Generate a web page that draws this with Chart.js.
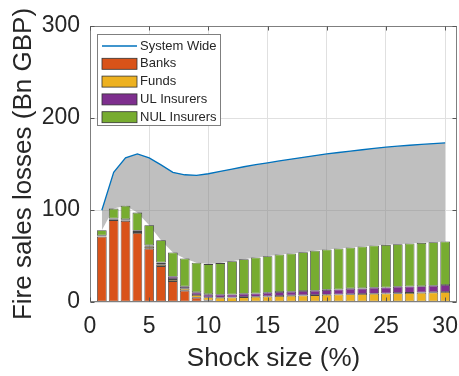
<!DOCTYPE html>
<html><head><meta charset="utf-8">
<script src="https://cdn.jsdelivr.net/npm/chart.js@4/dist/chart.umd.min.js"></script>
<style>html,body{margin:0;padding:0;background:#fff}#wrap{width:459px;height:376px}</style>
</head><body><div id="wrap"><canvas id="c" width="459" height="376"></canvas></div>
<script>
const shocks = [1,2,3,4,5,6,7,8,9,10,11,12,13,14,15,16,17,18,19,20,21,22,23,24,25,26,27,28,29,30];
const banks  = [71,89,88,75,58,39,22.7,12.3,4.7,1.5,0.3,0.1,0,0,0,0,0,0,0,0,0,0,0,0,0,0,0,0,0,0];
const funds  = [0.3,0.5,0.7,1,2,2,2.2,2.2,2.9,3.6,4.3,4.8,5.3,5.7,6.1,6.5,6.9,7.2,7.5,7.8,8.2,8.4,8.7,9,9.3,9.6,9.9,10.2,10.5,10.8];
const ulIns  = [0.8,1.2,1.2,1.5,1.5,1.8,2.5,2.2,2.9,3.2,3.2,3.2,3.6,3.6,4,4.3,4.3,4.7,4.7,5.4,5.4,6.1,6.1,6.5,6.5,6.9,6.9,7,7.2,7.6];
const nulIns = [5.9,10.8,14.8,19.7,21.9,24.4,26.4,30.6,32.1,32.9,34.5,36.3,37.7,39.1,39.7,40.8,41.5,42.3,43.6,43.8,44.5,44.7,45.5,45.9,46.3,46.3,46.8,47.1,47.3,47.3];
const systemWide = [99.7,141,156.7,161,156.7,149,141,138.3,137.6,139.4,142,144.5,147,149.3,151.3,153.3,155.3,157.3,159.2,161,162.5,164,165.5,167,168.3,169.4,170.4,171.3,172.2,173];
const xTicks = [0,5,10,15,20,25,30];
const yTicks = [0,100,200,300];

const FONT = '"Liberation Sans", Arial, Helvetica, sans-serif';
const TXT = '#262626';

const pts = arr => shocks.map((s, i) => ({x: s, y: arr[i]}));
const totals = shocks.map((s, i) => banks[i] + funds[i] + ulIns[i] + nulIns[i]);

const barDs = (label, arr, color) => ({
  type: 'bar', label, data: pts(arr), backgroundColor: color,
  borderColor: 'rgba(35,35,35,0.85)', borderWidth: 0.8, borderSkipped: false,
  stack: 'inst', order: 2, barPercentage: 0.82, categoryPercentage: 1, legendKind: 'box'
});

const framePlugin = {
  id: 'frame',
  afterDatasetsDraw(chart) {
    const {ctx, chartArea: a, scales} = chart;
    ctx.save();
    ctx.strokeStyle = '#7f7f7f';
    ctx.lineWidth = 1;
    const L = Math.round(a.left) + 0.5, R = Math.round(a.right) - 0.5;
    const T = Math.round(a.top) + 0.5, B = Math.round(a.bottom) - 0.5;
    ctx.strokeRect(L, T, R - L, B - T);
    ctx.strokeStyle = '#555';
    ctx.beginPath();
    xTicks.forEach(v => {
      const px = Math.round(scales.x.getPixelForValue(v)) + 0.5;
      ctx.moveTo(px, B); ctx.lineTo(px, B - 4);
      ctx.moveTo(px, T); ctx.lineTo(px, T + 4);
    });
    yTicks.forEach(v => {
      const py = Math.round(scales.y.getPixelForValue(v)) + 0.5;
      ctx.moveTo(L, py); ctx.lineTo(L + 4, py);
      ctx.moveTo(R, py); ctx.lineTo(R - 4, py);
    });
    ctx.stroke();
    ctx.restore();
  }
};

const legendPlugin = {
  id: 'insideLegend',
  afterDraw(chart) {
    const {ctx, chartArea: a} = chart;
    const items = chart.data.datasets.filter(d => d.legendKind);
    const x0 = Math.round(a.left) + 7, y0 = Math.round(a.top) + 8, w = 123, h = 91, rowH = 17.8;
    ctx.save();
    ctx.fillStyle = '#fff';
    ctx.fillRect(x0, y0, w, h);
    ctx.strokeStyle = '#7f7f7f';
    ctx.lineWidth = 1;
    ctx.strokeRect(x0 + 0.5, y0 + 0.5, w, h);
    ctx.font = '13px ' + FONT;
    ctx.textBaseline = 'middle';
    items.forEach((d, i) => {
      const cy = y0 + 12 + i * rowH;
      if (d.legendKind === 'line') {
        ctx.strokeStyle = d.borderColor;
        ctx.lineWidth = d.borderWidth;
        ctx.beginPath();
        ctx.moveTo(x0 + 5, cy); ctx.lineTo(x0 + 40, cy);
        ctx.stroke();
      } else {
        ctx.fillStyle = d.backgroundColor;
        ctx.fillRect(x0 + 5, cy - 5.5, 35, 11);
        ctx.strokeStyle = '#333';
        ctx.lineWidth = 0.8;
        ctx.strokeRect(x0 + 5, cy - 5.5, 35, 11);
      }
      ctx.fillStyle = TXT;
      ctx.fillText(d.label, x0 + 43, cy);
    });
    ctx.restore();
  }
};

new Chart(document.getElementById('c'), {
  type: 'bar',
  data: {
    datasets: [
      {type: 'line', label: 'System Wide', data: pts(systemWide), borderColor: '#0072BD', borderWidth: 1.3,
       pointRadius: 0, fill: false, tension: 0, stack: 'sw', order: 1, legendKind: 'line'},
      barDs('Banks', banks, '#D95319'),
      barDs('Funds', funds, '#EDB120'),
      barDs('UL Insurers', ulIns, '#7E2F8E'),
      barDs('NUL Insurers', nulIns, '#77AC30'),
      {type: 'line', label: 'gap', data: pts(systemWide), borderWidth: 0, borderColor: 'rgba(0,0,0,0)',
       pointRadius: 0, backgroundColor: 'rgba(127,127,127,0.5)', fill: 6, stack: 'gap', order: 5},
      {type: 'line', label: 'total', data: pts(totals), borderWidth: 0, borderColor: 'rgba(0,0,0,0)',
       pointRadius: 0, fill: false, stack: 'tot', order: 6}
    ]
  },
  options: {
    responsive: false,
    animation: false,
    devicePixelRatio: 1,
    layout: {padding: {top: 26, right: 2, left: 0, bottom: 0}},
    plugins: {legend: {display: false}, tooltip: {enabled: false}},
    scales: {
      x: {
        type: 'linear', min: 0, max: 31, offset: false,
        grid: {color: '#e0e0e0', offset: false, drawTicks: false, lineWidth: 1},
        border: {display: false},
        ticks: {stepSize: 5, includeBounds: false, padding: 11, maxRotation: 0, autoSkip: false,
                color: TXT, font: {family: FONT, size: 23}},
        title: {display: true, text: 'Shock size (%)', color: TXT, font: {family: FONT, size: 26},
                padding: {top: 0, bottom: 2}},
        afterFit: s => { s.height = 74; s.paddingLeft = 0; s.paddingRight = 0; }
      },
      y: {
        type: 'linear', min: 0, max: 300, stacked: true,
        grid: {color: '#e0e0e0', drawTicks: false, lineWidth: 1},
        border: {display: false},
        ticks: {stepSize: 100, padding: 10, color: TXT, font: {family: FONT, size: 23}},
        title: {display: true, text: 'Fire sales losses (Bn GBP)', color: TXT, font: {family: FONT, size: 26},
                padding: {top: 8, bottom: 0}},
        afterFit: s => { s.width = 90; s.paddingTop = 0; s.paddingBottom = 0; }
      }
    }
  },
  plugins: [framePlugin, legendPlugin]
});
</script></body></html>
